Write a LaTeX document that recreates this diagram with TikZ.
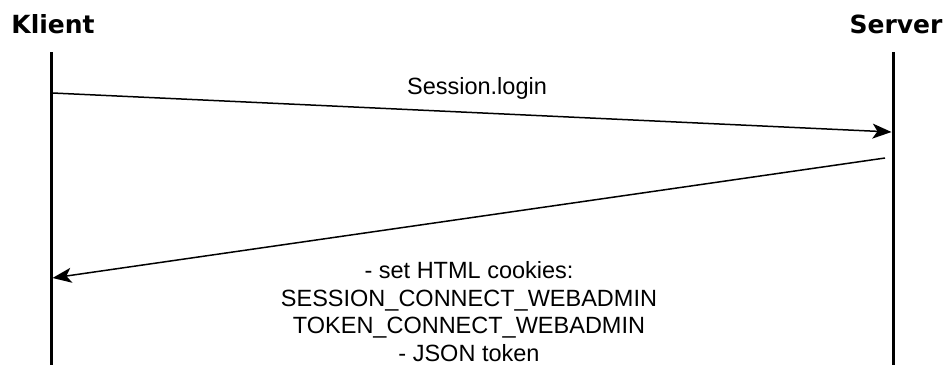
\documentclass[tikz,border=0pt]{standalone}
\usepackage{fontspec}
\setmainfont{Liberation Sans}
\newfontfamily\headfont{DejaVu Sans}
\usetikzlibrary{arrows.meta}
\begin{document}
\begin{tikzpicture}[x=1pt,y=-1pt,
  actor/.style={font=\headfont\bfseries\fontsize{25}{29}\selectfont, inner sep=0pt},
  lifeline/.style={line width=3pt},
  msg/.style={line width=1.5pt, -{Stealth[length=19pt,width=15pt,inset=5pt]}},
  msglabel/.style={font=\fontsize{23.5}{27.7}\selectfont, align=center, inner sep=0pt}]
  \useasboundingbox (0,0) rectangle (949,365);
  % participants
  \node[actor] (klient) at (53,24) {Klient};
  \node[actor] (server) at (896,24) {Server};
  % lifelines
  \coordinate (kTop) at (51,52);
  \coordinate (kBot) at (51,365);
  \coordinate (sTop) at (893,52);
  \coordinate (sBot) at (893,365);
  \draw[lifeline] (kTop) -- (kBot);
  \draw[lifeline] (sTop) -- (sBot);
  % request
  \coordinate (reqA) at (52.5,93);
  \coordinate (reqB) at (891.5,132);
  \draw[msg] (reqA) -- (reqB);
  \node[msglabel] (reqlabel) at (477,88) {Session.login};
  % response
  \coordinate (resA) at (885,158);
  \coordinate (resB) at (52.5,278);
  \draw[msg] (resA) -- (resB);
  \node[msglabel] (reslabel) at (469,311.5) {- set HTML cookies:\\SESSION\_CONNECT\_WEBADMIN\\TOKEN\_CONNECT\_WEBADMIN\\- JSON token};
\end{tikzpicture}
\end{document}
